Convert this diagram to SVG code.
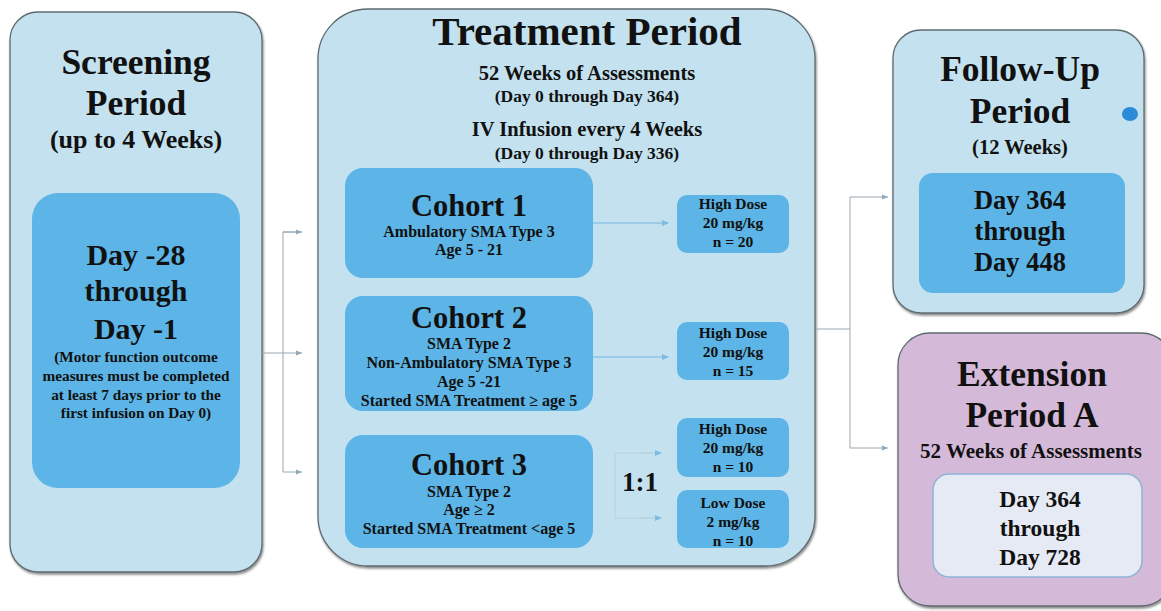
<svg xmlns="http://www.w3.org/2000/svg" width="1161" height="611" viewBox="0 0 1161 611">
<defs>
<style>
text{font-family:"Liberation Serif","Times New Roman",serif;font-weight:bold;fill:#111;text-anchor:middle}
.outer{fill:#c4e1ef;stroke:#5f6b70;stroke-width:1.3}
.inner{fill:#5cb5e6;stroke:none}
.ext{fill:#d5b9d9;stroke:#5f6b70;stroke-width:1.3}
.extin{fill:#e6eaf5;stroke:#8fb3d6;stroke-width:1.5}
.conn{fill:none;stroke:#9aa6ad;stroke-width:1}
.flow{fill:none;stroke:#9ccbe8;stroke-width:2}
.faint{fill:none;stroke:#b8d0dd;stroke-width:1}
.t1{font-size:35.5px}
.t2{font-size:26px}
.big{font-size:30px}
.sm{font-size:15.3px}
.coh{font-size:30.5px}
.cs{font-size:16px}
.dose{font-size:15.5px}
</style>
<marker id="ah" markerWidth="8" markerHeight="8" refX="6" refY="4" orient="auto" markerUnits="userSpaceOnUse">
<path d="M0,1 L7,4 L0,7 z" fill="#7dbbe3"/>
</marker>
<marker id="ag" markerWidth="8" markerHeight="8" refX="6" refY="4" orient="auto" markerUnits="userSpaceOnUse">
<path d="M0,1.5 L6,4 L0,6.5 z" fill="#8fa9ba"/>
</marker>
<filter id="sh" x="-5%" y="-5%" width="112%" height="112%">
<feDropShadow dx="1" dy="2" stdDeviation="1.2" flood-color="#333" flood-opacity="0.55"/>
</filter>
</defs>

<g id="screening">
<rect class="outer" x="10" y="12" width="252" height="560" rx="28" filter="url(#sh)"/>
<text class="t1" x="136" y="74">Screening</text>
<text class="t1" x="136" y="115">Period</text>
<text class="t2" x="136" y="148">(up to 4 Weeks)</text>
<rect class="inner" x="32" y="193" width="208" height="295" rx="26"/>
<text class="big" x="136" y="265">Day -28</text>
<text class="big" x="136" y="301">through</text>
<text class="big" x="136" y="339">Day -1</text>
<text class="sm" x="136" y="362">(Motor function outcome</text>
<text class="sm" x="136" y="381">measures must be completed</text>
<text class="sm" x="136" y="400">at least 7 days prior to the</text>
<text class="sm" x="136" y="418">first infusion on Day 0)</text>
</g>

<g id="treatment">
<rect class="outer" x="318" y="9" width="497" height="557" rx="50" filter="url(#sh)"/>
<text style="font-size:41px" x="587" y="45">Treatment Period</text>
<text style="font-size:20.5px" x="587" y="80">52 Weeks of Assessments</text>
<text style="font-size:17.5px" x="587" y="102">(Day 0 through Day 364)</text>
<text style="font-size:20.5px" x="587" y="136">IV Infusion every 4 Weeks</text>
<text style="font-size:17.5px" x="587" y="159">(Day 0 through Day 336)</text>
</g>

<g id="cohort1">
<rect class="inner" x="345" y="168" width="248" height="110" rx="18"/>
<text class="coh" x="469" y="216">Cohort 1</text>
<text class="cs" x="469" y="237">Ambulatory SMA Type 3</text>
<text class="cs" x="469" y="255">Age 5 - 21</text>
</g>

<g id="cohort2">
<rect class="inner" x="345" y="296" width="248" height="115" rx="18"/>
<text class="coh" x="469" y="328">Cohort 2</text>
<text class="cs" x="469" y="349">SMA Type 2</text>
<text class="cs" x="469" y="368">Non-Ambulatory SMA Type 3</text>
<text class="cs" x="469" y="387">Age 5 -21</text>
<text class="cs" x="469" y="406">Started SMA Treatment ≥ age 5</text>
</g>

<g id="cohort3">
<rect class="inner" x="345" y="435" width="248" height="113" rx="18"/>
<text class="coh" x="469" y="475">Cohort 3</text>
<text class="cs" x="469" y="497">SMA Type 2</text>
<text class="cs" x="469" y="515">Age ≥ 2</text>
<text class="cs" x="469" y="534">Started SMA Treatment &lt;age 5</text>
</g>

<g id="dose1">
<rect class="inner" x="677" y="195" width="112" height="58" rx="10"/>
<text class="dose" x="733" y="209">High Dose</text>
<text class="dose" x="733" y="228">20 mg/kg</text>
<text class="dose" x="733" y="247">n = 20</text>
</g>

<g id="dose2">
<rect class="inner" x="677" y="322" width="112" height="58" rx="10"/>
<text class="dose" x="733" y="338">High Dose</text>
<text class="dose" x="733" y="357">20 mg/kg</text>
<text class="dose" x="733" y="376">n = 15</text>
</g>

<g id="dose3">
<rect class="inner" x="677" y="418" width="112" height="59" rx="10"/>
<text class="dose" x="733" y="434">High Dose</text>
<text class="dose" x="733" y="453">20 mg/kg</text>
<text class="dose" x="733" y="472">n = 10</text>
</g>

<g id="dose4">
<rect class="inner" x="677" y="490" width="112" height="58" rx="10"/>
<text class="dose" x="733" y="508">Low Dose</text>
<text class="dose" x="733" y="527">2 mg/kg</text>
<text class="dose" x="733" y="546">n = 10</text>
</g>

<g id="ratio">
<text style="font-size:27px" x="640" y="491">1:1</text>
</g>

<g id="followup">
<rect class="outer" x="893" y="30" width="251" height="283" rx="28" filter="url(#sh)"/>
<text class="t1" x="1020" y="81">Follow-Up</text>
<text class="t1" x="1020" y="123">Period</text>
<text style="font-size:20.5px" x="1020" y="154">(12 Weeks)</text>
<rect class="inner" x="919" y="173" width="206" height="120" rx="14"/>
<text style="font-size:26.5px" x="1020" y="209">Day 364</text>
<text style="font-size:26.5px" x="1020" y="240">through</text>
<text style="font-size:26.5px" x="1020" y="271">Day 448</text>
<ellipse cx="1130" cy="114" rx="8" ry="7" fill="#2a8ad6"/>
</g>

<g id="extension">
<rect class="ext" x="898" y="333" width="275" height="273" rx="32" filter="url(#sh)"/>
<text class="t1" x="1032" y="386">Extension</text>
<text class="t1" x="1032" y="427">Period A</text>
<text style="font-size:21px" x="1031" y="458">52 Weeks of Assessments</text>
<rect class="extin" x="933" y="474" width="209" height="103" rx="16"/>
<text style="font-size:23.5px" x="1040" y="507">Day 364</text>
<text style="font-size:23.5px" x="1040" y="536">through</text>
<text style="font-size:23.5px" x="1040" y="565">Day 728</text>
</g>

<g id="connectors">
<path class="conn" d="M262,353 H302" marker-end="url(#ag)"/>
<path class="conn" d="M302,232 H283 V472 H302" marker-end="url(#ag)"/>
<path class="conn" d="M283,232 H302" marker-end="url(#ag)"/>
<path class="flow" d="M593,223 H668" marker-end="url(#ah)"/>
<path class="flow" d="M593,357 H668" marker-end="url(#ah)"/>
<path class="faint" d="M656,453 H615 V518 H656"/>
<path class="faint" d="M640,453 H661" marker-end="url(#ah)"/>
<path class="faint" d="M640,518 H661" marker-end="url(#ah)"/>
<path class="conn" d="M816,329 H850 V197 H888" marker-end="url(#ag)"/>
<path class="conn" d="M850,329 V448 H888" marker-end="url(#ag)"/>
</g>
</svg>
